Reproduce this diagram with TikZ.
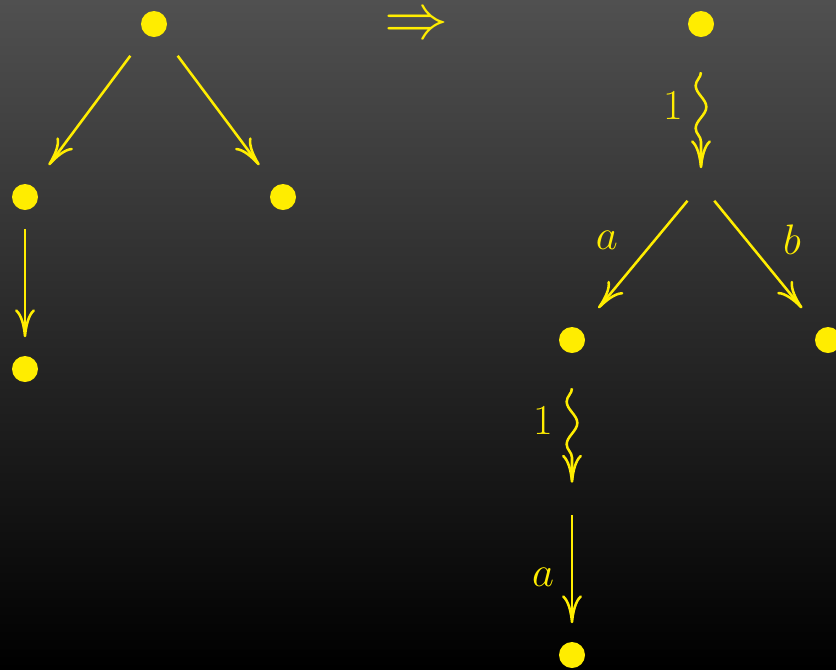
\RequirePackage{fix-cm}
\documentclass[tikz,border=0pt]{standalone}
\usetikzlibrary{arrows.meta,decorations.pathmorphing}
\definecolor{yc}{RGB}{255,237,0}
\definecolor{bgtop}{RGB}{80,80,80}
\begin{document}
\begin{tikzpicture}[x=0.75pt,y=-0.75pt,
  dot/.style={rectangle, minimum width=45pt, minimum height=47.25pt, inner sep=0pt,
    label={[circle, fill=yc, minimum size=19.5pt, inner sep=0pt]center:{}}},
  hole/.style={rectangle, minimum width=20pt, minimum height=24pt, inner sep=0pt},
  arr/.style={yc, line width=1.9pt, -{Computer Modern Rightarrow[length=21pt,width=15pt]}},
  sq/.style={arr, decorate, decoration={snake, mirror, amplitude=4pt, segment length=32pt, post length=18pt}},
  lab/.style={text=yc, font=\fontsize{32}{38}\selectfont, inner sep=0pt}]
\useasboundingbox (0,0) rectangle (836,669);
\shade[top color=bgtop, bottom color=black] (0,0) rectangle (836,669);
% left tree
\node[dot] (r) at (154,24) {};
\node[dot] (l1) at (25,197) {};
\node[dot] (l2) at (283,197) {};
\node[dot] (l3) at (25,369) {};
\draw[arr] (r) -- (l1);
\draw[arr] (r) -- (l2);
\draw[arr] (l1) -- (l3);
% implication
\node[lab, font=\fontsize{48}{50}\selectfont, text height=12pt, text depth=0pt] (imp) at (416,30) {$\Rightarrow$};
% right tree
\node[dot] (R) at (701,24) {};
\node[hole] (h1) at (701,184.5) {};
\node[dot] (A) at (572,340) {};
\node[dot] (B) at (828,340) {};
\node[hole] (h2) at (572,499) {};
\node[dot] (C) at (572,655) {};
\draw[sq] ([yshift=-12.4pt]R.south) -- (h1.north)
  node[lab, pos=.34, xshift=-21pt] (one1) {1};
\draw[arr] (h1) -- (A) node[lab, midway, xshift=-27pt, yshift=10.9pt] (la) {$a$};
\draw[arr] (h1) -- (B) node[lab, midway, xshift=25.3pt, yshift=10.9pt] (lb) {$b$};
\draw[sq] ([yshift=-12.4pt]A.south) -- (h2.north)
  node[lab, pos=.34, xshift=-21.75pt] (one2) {1};
\draw[arr] (h2) -- (C) node[lab, midway, xshift=-21.75pt, yshift=-5.8pt] (la2) {$a$};
\end{tikzpicture}
\end{document}
